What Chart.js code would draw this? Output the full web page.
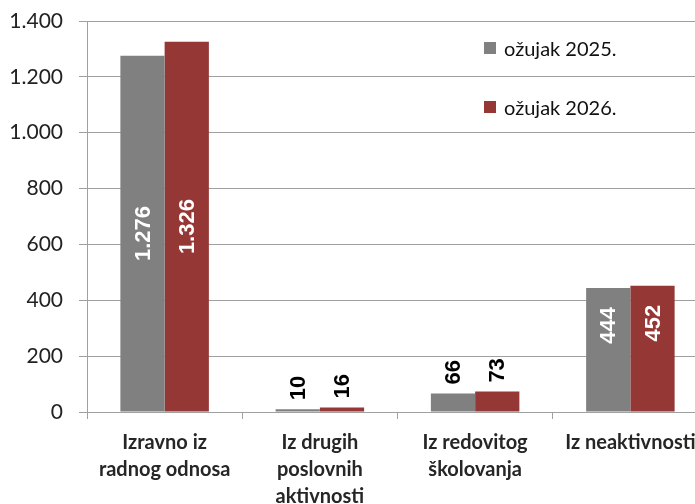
<!DOCTYPE html>
<html>
<head>
<meta charset="utf-8">
<script src="https://cdn.jsdelivr.net/npm/chart.js@4.4.1/dist/chart.umd.min.js"></script>
<style>
  html, body { margin: 0; padding: 0; background: #fff; overflow: hidden; }
  #wrap { position: relative; width: 712px; height: 504px; }
  #legend { position: absolute; left: 484px; top: 36px; font-family: Lato, sans-serif; font-size: 20px; color: #111; }
  #legend .item { display: flex; align-items: center; height: 24px; margin-bottom: 35px; }
  #legend .box { width: 12px; height: 12px; margin-right: 8px; }
</style>
</head>
<body>
<div id="wrap">
  <canvas id="myChart" width="712" height="504"></canvas>
  <div id="legend"></div>
</div>
<script>
var categories = [['Izravno iz', 'radnog odnosa'], ['Iz drugih', 'poslovnih', 'aktivnosti'], ['Iz redovitog', 'školovanja'], ['Iz neaktivnosti']];
var seriesNames = ['ožujak 2025.', 'ožujak 2026.'];
var values2025 = [1276, 10, 66, 444];
var values2026 = [1326, 16, 73, 452];
var colors = ['#808080', '#953735'];

function fmt(v) {
	return String(v).replace(/\B(?=(\d{3})+(?!\d))/g, '.');
}

// value labels rotated like the original
var barLabels = {
	id: 'barLabels',
	afterDatasetsDraw: function (chart) {
		var ctx = chart.ctx;
		ctx.save();
		ctx.font = 'bold 22px "Liberation Sans", Arial, sans-serif';
		ctx.textBaseline = 'middle';
		chart.data.datasets.forEach(function (ds, di) {
			var meta = chart.getDatasetMeta(di);
			meta.data.forEach(function (bar, i) {
				var text = fmt(ds.data[i]);
				var w = ctx.measureText(text).width;
				var h = bar.base - bar.y;
				var cy, color;
				if (h > 250) {
					cy = bar.y + h / 2;
					color = '#fff';
				} else if (h > 60) {
					cy = bar.y + 19 + w / 2;
					color = '#fff';
				} else {
					cy = bar.y - 9 - w / 2;
					color = '#000';
				}
				ctx.save();
				ctx.translate(bar.x + 1, cy);
				ctx.rotate(-Math.PI / 2);
				ctx.fillStyle = color;
				ctx.textAlign = 'center';
				ctx.fillText(text, 0, 0);
				ctx.restore();
			});
		});
		ctx.restore();
	}
};

var chart = new Chart('myChart', {
	type: 'bar',
	data: {
		labels: categories,
		datasets: [{
			label: seriesNames[0],
			data: values2025,
			backgroundColor: colors[0],
			categoryPercentage: 0.57,
			barPercentage: 1
		}, {
			label: seriesNames[1],
			data: values2026,
			backgroundColor: colors[1],
			categoryPercentage: 0.57,
			barPercentage: 1
		}]
	},
	options: {
		responsive: false,
		animation: false,
		layout: {
			padding: { left: 0, right: 4, top: 21, bottom: 0 }
		},
		plugins: {
			legend: { display: false },
			tooltip: { enabled: false }
		},
		scales: {
			x: {
				grid: { display: true, drawOnChartArea: false, offset: true, tickLength: 7, color: '#a0a0a0' },
				border: { color: '#a0a0a0' },
				afterFit: function (scale) { scale.height = 92; },
				ticks: {
					color: '#262626',
					padding: 10,
					maxRotation: 0,
					font: { family: 'Lato', size: 20, weight: 'bold', lineHeight: 1.35 }
				}
			},
			y: {
				min: 0,
				max: 1400,
				grid: { color: '#a0a0a0', tickLength: 8 },
				border: { color: '#a0a0a0' },
				afterFit: function (scale) { scale.width = 87; scale.paddingTop = 0; },
				ticks: {
					stepSize: 200,
					color: '#222',
					padding: 16,
					font: { family: 'Lato', size: 21, lineHeight: 1 },
					callback: function (v) { return fmt(v); }
				}
			}
		}
	},
	plugins: [barLabels]
});

var legend = document.getElementById('legend');
chart.data.datasets.forEach(function (ds) {
	var item = document.createElement('div');
	item.className = 'item';
	item.innerHTML = '<span class="box" style="background:' + ds.backgroundColor + '"></span><span>' + ds.label + '</span>';
	legend.appendChild(item);
});
</script>
</body>
</html>
